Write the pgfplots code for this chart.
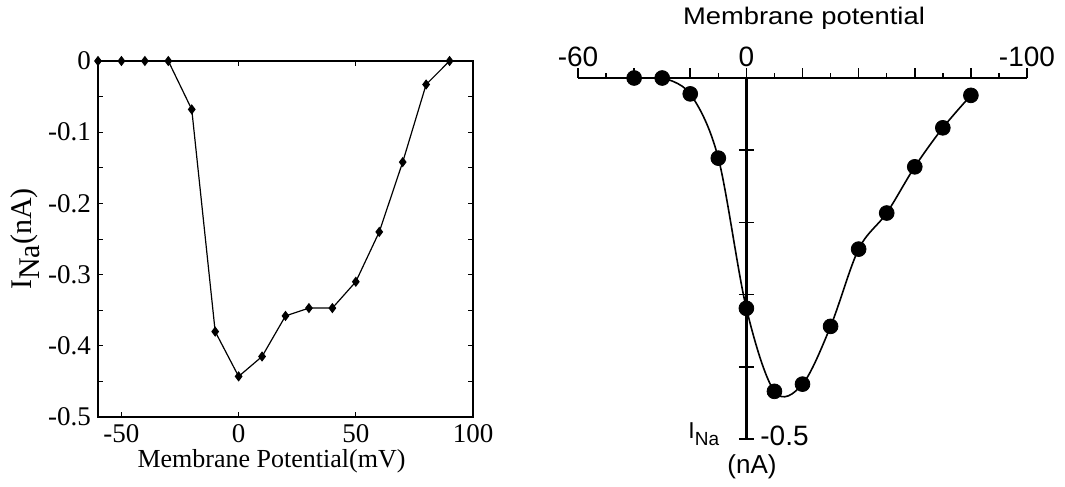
\documentclass[border=0pt]{standalone}
\usepackage{fontspec}
\setmainfont{Liberation Serif}
\newfontfamily\sansfont{Liberation Sans}
\usepackage{pgfplots}
\usepackage{pgfplotstable}
\pgfplotsset{compat=1.18}

% simulated I-V curve (left)
\pgfplotstableread{
V I
-60 0
-50 0
-40 0
-30 0
-20 -0.068
-10 -0.380
0 -0.443
10 -0.415
20 -0.358
30 -0.347
40 -0.347
50 -0.310
60 -0.240
70 -0.142
80 -0.033
90 0
}\simdata

% measured I-V curve (right)
\pgfplotstableread{
V I
-40 0
-30 0
-20 -0.022
-10 -0.111
0 -0.319
10 -0.434
20 -0.424
30 -0.344
40 -0.237
50 -0.187
60 -0.123
70 -0.069
80 -0.024
}\expdata

\begin{document}
\begin{tikzpicture}
\useasboundingbox (0,0) rectangle (532.5pt,-243.5pt);

\begin{axis}[
  at={(49pt,-208.5pt)}, anchor=south west,
  width=187.5pt, height=178pt, scale only axis,
  xmin=-60, xmax=100, ymin=-0.5, ymax=0,
  xtick={-50,0,50,100}, xticklabels={-50,0,50,100},
  ytick={-0.5,-0.4,-0.3,-0.2,-0.1,0},
  yticklabels={-0.5,-0.4,-0.3,-0.2,-0.1,0},
  minor y tick num=1,
  major tick length=2.5pt, minor tick length=2.5pt,
  tick style={black, line width=0.4pt},
  axis line style={line width=0.65pt},
  ticklabel style={font=\fontsize{13.5}{13.5}\selectfont},
  clip=false,
]
\addplot[black, line width=0.6pt, mark=diamond*, mark size=2.1pt] table[x=V,y=I] {\simdata};
\end{axis}
\node[anchor=base, font=\fontsize{13}{13}\selectfont] at (135.75pt,-233.5pt) {Membrane Potential(mV)};
\node[rotate=90, anchor=base, font=\fontsize{15}{15}\selectfont] at (16pt,-119.5pt)
  {I\raisebox{-0.25em}{Na}(nA)};

% right: x axis along the top
\begin{axis}[
  at={(289pt,-219.5pt)}, anchor=south west,
  width=224.5pt, height=180.5pt, scale only axis,
  xmin=-60, xmax=100, ymin=-0.5, ymax=0,
  axis x line=top, axis y line=none,
  axis line style={-, line width=1pt},
  xtick={-60,-40,...,100}, xticklabels={-60,,,0,,,,,-100},
  minor xtick={-50,-30,...,90},
  tick align=outside, major tick length=5pt, minor tick length=2.5pt,
  tick style={black, line width=0.8pt},
  xticklabel style={font=\sansfont\fontsize{14}{14}\selectfont, yshift=-3pt},
]
\end{axis}

% right: y axis through 0 and the data
\begin{axis}[
  at={(289pt,-219.5pt)}, anchor=south west,
  width=224.5pt, height=180.5pt, scale only axis,
  xmin=-60, xmax=100, ymin=-0.5, ymax=0,
  axis x line=none, axis y line=middle,
  axis line style={-, line width=1.3pt},
  xtick=\empty,
  ytick={-0.5,-0.4,-0.3,-0.2,-0.1}, yticklabels={,,,,},
  tick align=center, major tick length=7.5pt,
  tick style={black, line width=0.8pt},
  clip=false,
]
\addplot[black, line width=0.8pt, smooth, tension=0.55, restrict x to domain=-30:80]
  table[x=V,y=I] {\expdata};
\addplot[only marks, mark=*, mark size=3.7pt, black] table[x=V,y=I] {\expdata};
\end{axis}

\node[anchor=base, font=\sansfont\fontsize{12}{12}\selectfont, xscale=1.14] at (402pt,-12.5pt) {Membrane potential};
\node[anchor=base west, inner sep=0pt, font=\sansfont\fontsize{14}{14}\selectfont] at (380pt,-222.5pt) {-0.5};
\node[anchor=base west, inner sep=0pt, font=\sansfont\fontsize{11.5}{11.5}\selectfont] at (344pt,-219pt)
  {I\raisebox{-3.5pt}{\fontsize{9.5}{9.5}\selectfont Na}};
\node[anchor=base, inner sep=0pt, font=\sansfont\fontsize{13}{13}\selectfont] at (376pt,-236.5pt) {(nA)};
\end{tikzpicture}
\end{document}
